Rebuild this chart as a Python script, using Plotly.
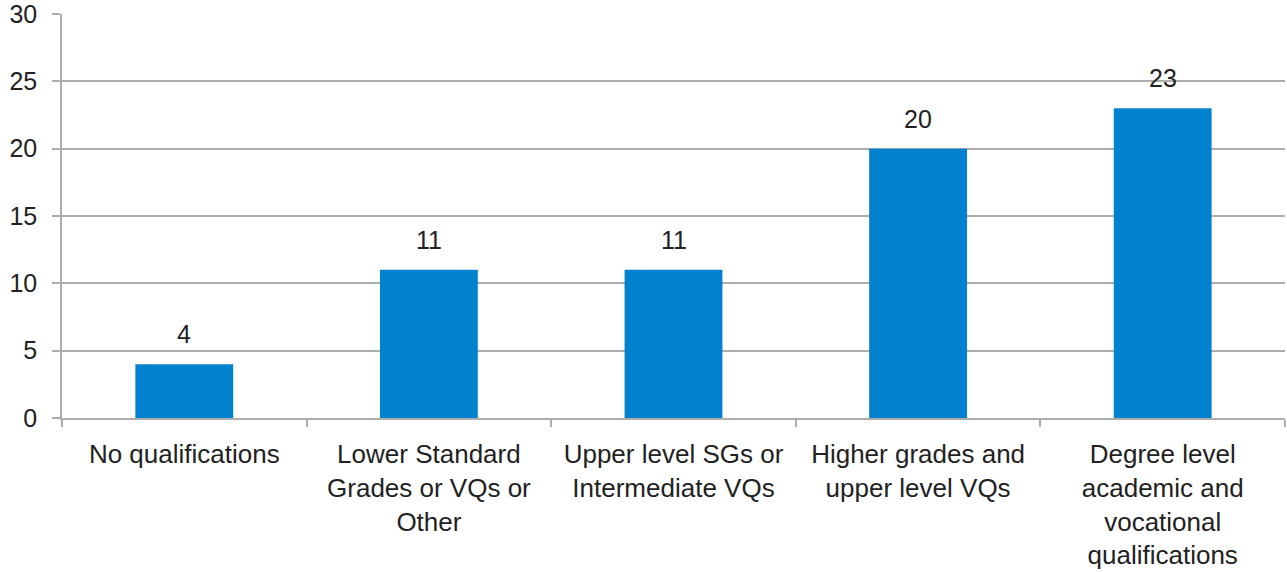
import plotly.graph_objects as go

categories = [
    "No qualifications",
    "Lower Standard<br>Grades or VQs or<br>Other",
    "Upper level SGs or<br>Intermediate VQs",
    "Higher grades and<br>upper level VQs",
    "Degree level<br>academic and<br>vocational<br>qualifications",
]
values = [4, 11, 11, 20, 23]
y_ticks = [0, 5, 10, 15, 20, 25, 30]

FONT = "Liberation Sans, Arial, sans-serif"
BAR = "#0282CE"
GRID = "#ADADAD"
TXT = "#222222"

fig = go.Figure()
fig.add_trace(go.Bar(
    x=categories, y=values, marker=dict(color=BAR, line=dict(width=0)),
    width=0.4, hoverinfo="skip",
))
for c, v in zip(categories, values):
    fig.add_annotation(x=c, y=v, text=str(v), showarrow=False,
                       yanchor="middle", yshift=30,
                       font=dict(family=FONT, size=25, color=TXT))

fig.update_layout(
    width=1287, height=572,
    margin=dict(l=62, r=2, t=14, b=154, autoexpand=False),
    plot_bgcolor="white", paper_bgcolor="white",
    showlegend=False,
    font=dict(family=FONT, size=25, color=TXT),
)
fig.update_xaxes(
    type="category", tickson="boundaries", ticks="outside", ticklen=7,
    tickcolor=GRID, tickwidth=1.5, showline=True, linecolor=GRID, linewidth=1.5,
    showgrid=False, automargin=False, ticklabelstandoff=12,
    tickfont=dict(family=FONT, size=26, color=TXT),
)
fig.update_yaxes(
    range=[0, 30], tickvals=y_ticks, ticks="outside", ticklen=8,
    tickcolor=GRID, tickwidth=1.5, showline=True, linecolor=GRID, linewidth=1.5,
    showgrid=True, gridcolor=GRID, gridwidth=1.5, zeroline=False,
    automargin=False, ticklabelstandoff=10, ticklabeloverflow="allow",
    tickfont=dict(family=FONT, size=25, color=TXT),
)
fig.write_html("out.html", config={"displayModeBar": False},
               post_script="document.body.style.margin='0px';")
